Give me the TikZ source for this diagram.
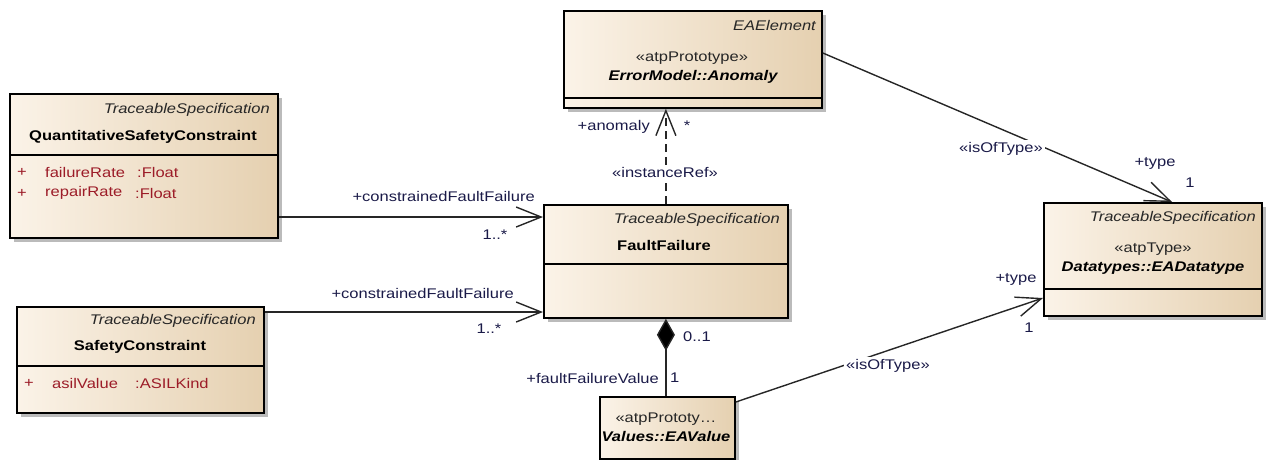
\documentclass[tikz,border=0pt]{standalone}
\usepackage{fontspec}
\setmainfont{Liberation Sans}[FakeStretch=1.18]
\usetikzlibrary{arrows.meta,shadows,calc}

\definecolor{boxL}{HTML}{FBF3E8}
\definecolor{boxR}{HTML}{E5D0B0}
\definecolor{shadowC}{HTML}{BBBBBB}
\definecolor{lineC}{HTML}{262626}
\definecolor{labelC}{HTML}{1A1A48}
\definecolor{attrC}{HTML}{9C1C28}
\definecolor{stereoC}{HTML}{262626}

\begin{document}
\begin{tikzpicture}[x=1pt,y=-1pt,
  every node/.style={font=\fontsize{14}{16}\selectfont, inner sep=0pt},
  umlbox/.style={draw=black, line width=1.8pt, left color=boxL, right color=boxR,
    drop shadow={shadow xshift=4pt, shadow yshift=-4pt, fill=shadowC, opacity=1},
    anchor=north west},
  sepline/.style={draw=black, line width=1.5pt},
  stereo/.style={text=stereoC, font=\fontsize{14}{16}\selectfont\itshape},
  kw/.style={text=stereoC},
  cname/.style={text=black, font=\fontsize{14}{16}\selectfont\bfseries},
  qname/.style={text=black, font=\fontsize{14}{16}\selectfont\bfseries\itshape},
  attr/.style={text=attrC, anchor=west},
  lbl/.style={text=labelC},
  assoc/.style={draw=lineC, line width=1.4pt},
  navarrow/.style={-{Straight Barb[length=25pt,width=20pt]}},
  dashline/.style={dash pattern=on 8pt off 5pt},
  tagbg/.style={lbl, fill=white, inner sep=2pt}
]
\useasboundingbox (0,0) rectangle (1268,459);

% ---------- class boxes ----------
\node[umlbox, minimum width=268pt, minimum height=144pt] (qsc) at (9,93) {};
\draw[sepline] (qsc.west |- 0,155) -- (qsc.east |- 0,155);
\node[stereo, anchor=east] (qscst) at (270,110) {TraceableSpecification};
\node[cname] (qscname) at (143,137) {QuantitativeSafetyConstraint};
\node[attr] (qscp1) at (17,172) {+};
\node[attr] (qsca1) at (45,172) {failureRate};
\node[attr] (qsct1) at (137,172) {:Float};
\node[attr] (qscp2) at (17,193) {+};
\node[attr] (qsca2) at (45,193) {repairRate};
\node[attr] (qsct2) at (135,193) {:Float};

\node[umlbox, minimum width=258pt, minimum height=97pt] (anom) at (563,10) {};
\draw[sepline] (anom.west |- 0,98) -- (anom.east |- 0,98);
\node[stereo, anchor=east] (anomst) at (816,25) {EAElement};
\node[kw] (anomkw) at (692,58) {«atpPrototype»};
\node[qname] (anomname) at (693,77) {ErrorModel::Anomaly};

\node[umlbox, minimum width=244pt, minimum height=113pt] (ff) at (543,204) {};
\draw[sepline] (ff.west |- 0,264) -- (ff.east |- 0,264);
\node[stereo, anchor=east] (ffst) at (780,220) {TraceableSpecification};
\node[cname] (ffname) at (664,245) {FaultFailure};

\node[umlbox, minimum width=247pt, minimum height=106pt] (sc) at (16,306) {};
\draw[sepline] (sc.west |- 0,366) -- (sc.east |- 0,366);
\node[stereo, anchor=east] (scst) at (256,321) {TraceableSpecification};
\node[cname] (scname) at (140,347) {SafetyConstraint};
\node[attr] (scp1) at (24,383) {+};
\node[attr] (sca1) at (52,383) {asilValue};
\node[attr] (sct1) at (135,383) {:ASILKind};

\node[umlbox, minimum width=135pt, minimum height=62pt] (ev) at (599,396) {};
\node[kw] (evkw) at (666,419) {«atpPrototy…};
\node[qname] (evname) at (666,436) {Values::EAValue};

\node[umlbox, minimum width=218pt, minimum height=113pt] (dt) at (1043,202) {};
\draw[sepline] (dt.west |- 0,289) -- (dt.east |- 0,289);
\node[stereo, anchor=east] (dtst) at (1256,218) {TraceableSpecification};
\node[kw] (dtkw) at (1153,249) {«atpType»};
\node[qname] (dtname) at (1153,268) {Datatypes::EADatatype};

% ---------- connectors ----------
% constrainedFaultFailure associations
\draw[assoc, navarrow] (qsc.east |- 0,217) -- (ff.west |- 0,217);
\node[lbl, anchor=east] (r1) at (535,196) {+constrainedFaultFailure};
\node[lbl] (m1) at (495,235) {1..*};

\draw[assoc, navarrow] (sc.east |- 0,312) -- (ff.west |- 0,312);
\node[lbl, anchor=east] (r2) at (514,293) {+constrainedFaultFailure};
\node[lbl] (m2) at (489,329) {1..*};

% instanceRef dependency
\draw[assoc, dashline, navarrow] (ff.north) -- (anom.south -| ff.north);
\node[tagbg] (t1) at (665,172) {«instanceRef»};
\node[lbl, anchor=east] (r3) at (650,127) {+anomaly};
\node[lbl] (m3) at (687,126) {*};

% composition
\draw[assoc, {Diamond[length=32pt,width=18pt,fill=black]}-] (ff.south) -- (ff.south |- ev.north);
\node[lbl, anchor=west] (m4) at (683,337) {0..1};
\node[lbl, anchor=east] (r4) at (659,378) {+faultFailureValue};
\node[lbl, anchor=west] (m5) at (670,378) {1};

% isOfType from Anomaly
\draw[assoc, navarrow] (anom.east |- 0,53) -- (dt.north -| 1172,0);
\node[tagbg] (t2) at (1001,149) {«isOfType»};
\node[lbl] (r5) at (1155,163) {+type};
\node[lbl] (m6) at (1190,183) {1};

% isOfType from EAValue
\draw[assoc, navarrow] (ev.east |- 0,402) -- (dt.west |- 0,298);
\node[tagbg] (t3) at (888,366) {«isOfType»};
\node[lbl] (r6) at (1016,279) {+type};
\node[lbl] (m7) at (1029,328) {1};
\end{tikzpicture}
\end{document}
